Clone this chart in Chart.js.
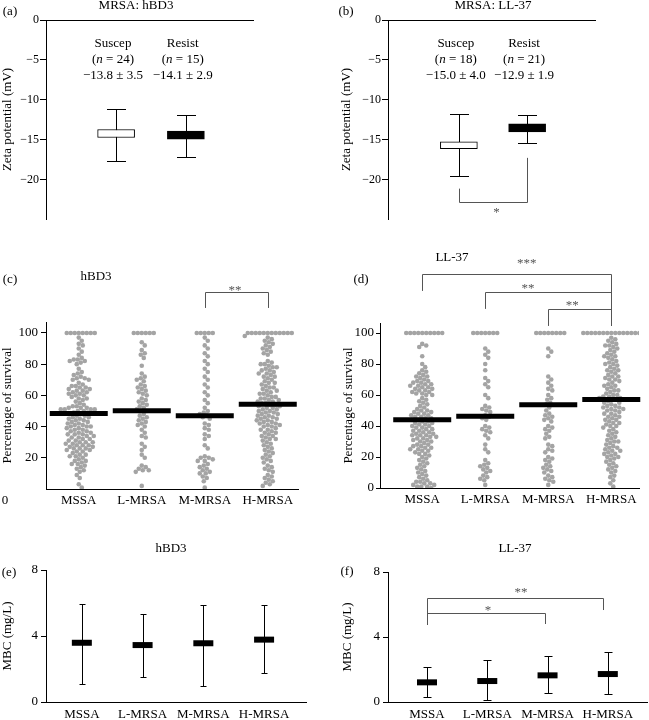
<!DOCTYPE html>
<html><head><meta charset="utf-8">
<script src="https://cdn.jsdelivr.net/npm/chart.js@4.4.1/dist/chart.umd.min.js"></script>
<style>
html,body{margin:0;padding:0;background:#fff;}
#wrap{position:relative;width:649px;height:720px;overflow:hidden;font-family:"Liberation Serif","Times New Roman",serif;color:#000;}
canvas{position:absolute;}
.t{position:absolute;font-size:13px;white-space:nowrap;transform:translate(-50%,-50%);line-height:1;}
</style></head><body>
<div id="wrap">
<canvas id="ca" style="left:0;top:0" width="325" height="230"></canvas>
<canvas id="cb" style="left:325px;top:0" width="324" height="230"></canvas>
<canvas id="cc" style="left:0;top:230px" width="325" height="285"></canvas>
<canvas id="cd" style="left:325px;top:230px" width="324" height="285"></canvas>
<canvas id="ce" style="left:0;top:515px" width="325" height="205"></canvas>
<canvas id="cf" style="left:325px;top:515px" width="324" height="205"></canvas>
<div class="t" style="left:10px;top:10px">(a)</div>
<div class="t" style="left:136px;top:4px">MRSA: hBD3</div>
<div class="t" style="left:346px;top:10px">(b)</div>
<div class="t" style="left:493px;top:4px">MRSA: LL-37</div>
<div class="t" style="left:10px;top:278px">(c)</div>
<div class="t" style="left:96px;top:275px">hBD3</div>
<div class="t" style="left:361px;top:278px">(d)</div>
<div class="t" style="left:452px;top:256px">LL-37</div>
<div class="t" style="left:9px;top:571px">(e)</div>
<div class="t" style="left:171px;top:547px">hBD3</div>
<div class="t" style="left:347px;top:570px">(f)</div>
<div class="t" style="left:515px;top:547px">LL-37</div>
</div>
<script>
// ---------- data ----------
const ZETA_GROUPS = ['Suscep', 'Resist'];
const HBD3_ZETA_N = [24, 15];
const HBD3_ZETA_STAT = ['\u221213.8 \u00b1 3.5', '\u221214.1 \u00b1 2.9'];
const HBD3_ZETA_BOX_HIGH = [-13.7, -13.9];
const HBD3_ZETA_BOX_LOW = [-14.7, -14.9];
const HBD3_ZETA_WHISK_HIGH = [-11.1, -11.9];
const HBD3_ZETA_WHISK_LOW = [-17.6, -17.1];

const LL37_ZETA_N = [18, 21];
const LL37_ZETA_STAT = ['\u221215.0 \u00b1 4.0', '\u221212.9 \u00b1 1.9'];
const LL37_ZETA_BOX_HIGH = [-15.25, -13.0];
const LL37_ZETA_BOX_LOW = [-16.1, -14.0];
const LL37_ZETA_WHISK_HIGH = [-11.75, -11.9];
const LL37_ZETA_WHISK_LOW = [-19.5, -15.4];

const ZETA_TICKS = [0, -5, -10, -15, -20];

const CATS = ['MSSA', 'L-MRSA', 'M-MRSA', 'H-MRSA'];

const HBD3_SURV_MSSA = [100,100,100,100,100,100,100,100,
 97,95,93,92,90,88,86,
 84,83,83,82,82,81,80,
 77,75,74,73,72,71,71,70,70,
 68,67,66,66,65,65,64,64,63,63,62,62,61,61,60,60,
 59,58,58,57,56,55,
 54,53,53,52,52,52,51,51,51,51,50,50,
 49,49,48,48,47,47,46,46,45,45,
 44,44,43,43,42,42,41,41,40,40,40,
 39,39,38,38,37,37,36,36,35,35,35,
 34,34,33,33,32,32,31,31,30,30,30,
 29,29,28,28,28,27,27,26,26,26,25,25,
 24,24,23,22,22,21,21,20,
 19,18,18,17,16,16,15,
 14,13,12,11,9,7,3,1];
const HBD3_SURV_LMRSA = [100,100,100,100,100,100,
 94,92,89,87,86,84,79,74,72,71,70,69,
 67,66,65,64,63,62,61,60,58,57,56,55,54,53,52,51,50,50,
 48,47,46,45,44,43,42,41,40,38,36,34,33,29,27,25,22,20,
 15,14,13,12,12,11,2];
const HBD3_SURV_MMRSA = [100,100,100,100,100,
 97,95,92,90,87,85,82,80,77,75,72,70,67,65,62,60,57,55,52,
 50,49,48,47,46,45,42,41,39,38,35,34,32,28,26,
 21,20,20,19,18,18,16,15,14,13,12,11,10,10,8,7,5,1];
const HBD3_SURV_HMRSA = [100,100,100,100,100,100,100,100,100,100,100,100,
 98,97,96,95,94,93,92,91,90,89,88,87,86,
 82,81,80,80,79,78,78,77,76,76,75,74,74,73,72,72,71,70,
 69,68,68,67,66,65,65,64,63,63,62,61,61,60,
 59,59,58,58,57,57,56,56,55,55,54,54,53,53,52,52,51,51,50,50,
 49,49,48,48,47,47,46,46,45,45,44,44,43,43,42,42,41,41,40,40,
 39,38,38,37,36,36,35,34,34,33,32,32,31,30,
 29,28,27,26,25,24,23,22,21,20,
 19,18,17,15,14,13,12,11,9,8,7,6,5,4,3,2];
const HBD3_SURV_MEAN = [48.3, 50.2, 47.0, 54.3];

const LL37_SURV_MSSA = [100,100,100,100,100,100,100,100,100,100,
 93,92,91,85,80,78,76,75,74,73,72,72,71,70,
 69,69,68,68,67,67,66,66,65,65,64,64,63,63,62,62,61,61,60,60,
 58,57,56,55,54,53,52,51,50,50,
 49,49,48,48,47,47,46,46,45,45,44,44,43,43,42,42,41,41,40,40,
 39,39,38,38,37,37,36,36,35,35,34,34,34,33,33,32,32,31,31,30,30,
 29,28,28,27,27,26,26,25,25,24,24,23,22,22,21,20,
 19,18,17,16,15,14,13,12,11,10,
 9,8,7,6,5,4,4,3,3,2,2,1,1,1,0];
const LL37_SURV_LMRSA = [100,100,100,100,100,100,100,
 90,88,86,84,80,76,71,69,67,65,60,58,53,52,51,50,49,47,46,45,44,
 40,39,38,37,36,34,32,28,25,23,18,16,15,14,13,12,11,10,8,7,6,5,2];
const LL37_SURV_MMRSA = [100,100,100,100,100,100,100,100,
 90,88,85,72,70,68,66,64,63,60,58,57,55,54,52,50,48,47,46,45,44,43,
 40,39,38,37,35,33,32,28,27,25,24,23,20,19,18,17,15,14,13,12,11,10,8,7,6,5,4,2];
const LL37_SURV_HMRSA = [100,100,100,100,100,100,100,100,100,100,100,100,100,100,100,
 98,97,96,95,94,93,92,92,91,90,
 89,88,87,86,85,85,84,83,82,81,80,80,
 79,78,77,76,76,75,74,73,72,72,71,70,70,
 69,68,67,66,66,65,64,63,63,62,61,60,60,
 59,59,58,58,57,57,56,55,55,54,53,53,52,52,51,51,50,50,
 49,48,48,47,46,46,45,44,44,43,42,42,41,40,40,
 39,38,37,36,35,34,33,32,31,30,30,
 29,28,27,26,26,25,24,24,23,22,22,21,20,20,
 19,18,17,16,15,14,13,12,11,10,
 8,7,5,3,1];
const LL37_SURV_MEAN = [44.1, 46.3, 53.7, 57.2];

const HBD3_MBC_MEAN = [3.59, 3.45, 3.56, 3.78];
const HBD3_MBC_HIGH = [5.94, 5.33, 5.86, 5.86];
const HBD3_MBC_LOW = [1.09, 1.49, 0.99, 1.78];
const LL37_MBC_MEAN = [1.21, 1.29, 1.64, 1.72];
const LL37_MBC_HIGH = [2.17, 2.58, 2.83, 3.10];
const LL37_MBC_LOW = [0.33, 0.12, 0.57, 0.47];

const SURV_TICKS = [0, 20, 40, 60, 80, 100];
const MBC_TICKS = [0, 4, 8];

// ---------- helpers ----------
const FONT = '"Liberation Serif","Times New Roman",serif';
Chart.defaults.font.family = FONT;
Chart.defaults.color = '#000';

// deterministic beeswarm layout (pixel-space collision avoidance)
function swarm(groups, pxX, pxY, d) {
  const pts = [];
  groups.forEach((vals, gi) => {
    const placed = [];
    vals.slice().sort((a, b) => b - a).forEach(v => {
      const py = v * pxY;
      let off = 0;
      for (let i = 0; i < 600; i++) {
        off = i === 0 ? 0 : (i % 2 ? 1 : -1) * Math.ceil(i / 2) * 1.0;
        let ok = true;
        for (const p of placed) {
          const dy = p.py - py;
          if (Math.abs(dy) < d) {
            const dx = p.px - off;
            if (dx * dx + dy * dy < d * d - 1e-6) { ok = false; break; }
          }
        }
        if (ok) break;
      }
      placed.push({ px: off, py });
      pts.push({ x: gi + 1 + off / pxX, y: v });
    });
  });
  return pts;
}

function drawRich(ctx, parts, cx, cy, size, color, baseline) {
  const fonts = parts.map(p => (p[1] ? 'italic ' : '') + size + 'px ' + FONT);
  let total = 0;
  parts.forEach((p, i) => { ctx.font = fonts[i]; total += ctx.measureText(p[0]).width; });
  let x = cx - total / 2;
  ctx.fillStyle = color; ctx.textBaseline = baseline; ctx.textAlign = 'left';
  parts.forEach((p, i) => { ctx.font = fonts[i]; ctx.fillText(p[0], x, cy); x += ctx.measureText(p[0]).width; });
}

const ANNOT = {};
const annotPlugin = {
  id: 'annot',
  beforeDatasetsDraw(chart) {
    const o = ANNOT[chart.canvas.id]; if (!o || !o.whiskers) return;
    const w = o.whiskers, ctx = chart.ctx, xs = chart.scales.x, ys = chart.scales.y;
    ctx.save(); ctx.strokeStyle = '#000'; ctx.lineWidth = 1;
    w.x.forEach((xv, i) => {
      const px = Math.round(xs.getPixelForValue(xv)) + 0.5;
      const yh = Math.round(ys.getPixelForValue(w.hi[i])) + 0.5;
      const yl = Math.round(ys.getPixelForValue(w.lo[i])) + 0.5;
      ctx.beginPath();
      ctx.moveTo(px, yh); ctx.lineTo(px, yl);
      ctx.moveTo(px - w.cap / 2, yh); ctx.lineTo(px + w.cap / 2, yh);
      ctx.moveTo(px - w.cap / 2, yl); ctx.lineTo(px + w.cap / 2, yl);
      ctx.stroke();
    });
    ctx.restore();
  },
  afterDatasetsDraw(chart) {
    const o = ANNOT[chart.canvas.id]; if (!o) return;
    const ctx = chart.ctx, xs = chart.scales.x, ys = chart.scales.y;
    ctx.save();
    (o.brackets || []).forEach(b => {
      const x1 = Math.round(xs.getPixelForValue(b.x1)) + 0.5, x2 = Math.round(xs.getPixelForValue(b.x2)) + 0.5;
      const yH = Math.round(ys.getPixelForValue(b.yH)) + 0.5;
      ctx.strokeStyle = '#555'; ctx.lineWidth = 1;
      ctx.beginPath();
      ctx.moveTo(x1, ys.getPixelForValue(b.y1)); ctx.lineTo(x1, yH); ctx.lineTo(x2, yH); ctx.lineTo(x2, ys.getPixelForValue(b.y2));
      ctx.stroke();
    });
    (o.texts || []).forEach(t => {
      const size = t.size || 13;
      const cx = xs.getPixelForValue(t.x), cy = ys.getPixelForValue(t.y);
      if (t.star) drawRich(ctx, t.parts, cx, cy + size * 0.55, size, '#555', 'alphabetic');
      else drawRich(ctx, t.parts, cx, cy, size, '#000', 'middle');
    });
    ctx.restore();
  }
};
Chart.register(annotPlugin);

function yAxis(min, max, ticks, title, width, tickLen, pad, size) {
  return {
    type: 'linear', min, max,
    afterBuildTicks: s => { s.ticks = ticks.map(v => ({ value: v })); },
    afterFit: s => { s.width = width; },
    ticks: { font: { size, family: FONT }, color: '#000', padding: pad,
      callback: v => (v < 0 ? '\u2212' + Math.abs(v) : String(v)) },
    grid: { drawOnChartArea: false, tickLength: tickLen, color: '#000', tickColor: '#000' },
    border: { display: true, color: '#000', width: 1 },
    title: { display: true, text: title, font: { size: 13, family: FONT }, color: '#000', padding: 0 }
  };
}
function xCatAxis(min, max, height, pad) {
  return {
    type: 'linear', min, max, position: 'bottom',
    afterBuildTicks: s => { s.ticks = CATS.map((c, i) => ({ value: i + 1 })); },
    afterFit: s => { s.height = height; },
    ticks: { autoSkip: false, maxRotation: 0, minRotation: 0, padding: pad, font: { size: 13, family: FONT }, color: '#000',
      callback: v => CATS[Math.round(v) - 1] },
    grid: { drawOnChartArea: false, drawTicks: false },
    border: { display: true, color: '#000', width: 1 }
  };
}
const baseOpts = { responsive: false, animation: false, events: [],
  plugins: { legend: { display: false }, tooltip: { enabled: false } } };
function lay(p) { return { autoPadding: false, padding: p }; }

// ---------- (a) & (b) zeta potential ----------
function zetaChart(id, hi, lo, wHi, wLo, nArr, stat, pad, yW, xmin, xmax, brackets, extraTexts) {
  ANNOT[id] = {
    whiskers: { x: [1, 2], hi: wHi, lo: wLo, cap: 19 },
    brackets,
    texts: ZETA_GROUPS.flatMap((g, i) => {
      const x = i === 0 ? 0.955 : 1.955;
      return [
        { x, y: -3.0, parts: [[g]] },
        { x, y: -5.0, parts: [['('], ['n', 1], [' = ' + nArr[i] + ')']] },
        { x, y: -6.9, parts: [[stat[i]]] }
      ];
    }).concat(extraTexts)
  };
  new Chart(document.getElementById(id), {
    type: 'bar',
    data: { datasets: [{
      data: ZETA_GROUPS.map((g, i) => ({ x: i + 1, y: [lo[i], hi[i]] })),
      backgroundColor: ['#ffffff', '#000000'], borderColor: '#000', borderWidth: 1,
      borderSkipped: false, barThickness: 37
    }] },
    options: Object.assign({}, baseOpts, {
      layout: lay(pad),
      scales: {
        x: { type: 'linear', min: xmin, max: xmax, position: 'top',
          afterFit: s => { s.height = 0; },
          ticks: { display: false }, grid: { drawOnChartArea: false, drawTicks: false },
          border: { display: true, color: '#000', width: 1 } },
        y: yAxis(-24.9, 0, ZETA_TICKS, 'Zeta potential (mV)', yW, 6, 1, 12)
      }
    })
  });
}
zetaChart('ca', HBD3_ZETA_BOX_HIGH, HBD3_ZETA_BOX_LOW, HBD3_ZETA_WHISK_HIGH, HBD3_ZETA_WHISK_LOW,
  HBD3_ZETA_N, HBD3_ZETA_STAT, { left: 0, top: 20, right: 72, bottom: 11 }, 46, 0.366, 2.591, [], []);
zetaChart('cb', LL37_ZETA_BOX_HIGH, LL37_ZETA_BOX_LOW, LL37_ZETA_WHISK_HIGH, LL37_ZETA_WHISK_LOW,
  LL37_ZETA_N, LL37_ZETA_STAT, { left: 14, top: 20, right: 54, bottom: 11 }, 49, 0.341, 2.615,
  [{ x1: 1, x2: 2, yH: -22.75, y1: -21.1, y2: -17.25 }],
  [{ x: 1.55, y: -23.6, parts: [['*']], star: true }]);

// ---------- (c) & (d) survival ----------
function survChart(id, groups, means, pad, yW, xH, xmin, xmax, ymax, pxY, tickLen, tickPad, ticks, brackets, texts) {
  ANNOT[id] = { brackets, texts };
  new Chart(document.getElementById(id), {
    type: 'scatter',
    data: { datasets: [
      { data: swarm(groups, 63, pxY, 4.0), pointRadius: 2.3, pointBackgroundColor: '#a4a4a4',
        pointBorderWidth: 0, borderWidth: 0, order: 1 },
      { data: means.map((m, i) => ({ x: i + 1, y: m })), pointStyle: 'line', pointRadius: 29,
        borderColor: '#000', pointBorderWidth: 5, borderWidth: 5, order: 0, clip: false }
    ] },
    options: Object.assign({}, baseOpts, {
      layout: lay(pad),
      scales: {
        x: xCatAxis(xmin, xmax, xH, 4),
        y: yAxis(0, ymax, ticks, 'Percentage of survival', yW, tickLen, tickPad, 13)
      }
    })
  });
}
survChart('cc', [HBD3_SURV_MSSA, HBD3_SURV_LMRSA, HBD3_SURV_MMRSA, HBD3_SURV_HMRSA], HBD3_SURV_MEAN,
  { left: 0, top: 92, right: 27, bottom: 0 }, 46, 26, 0.48, 4.48, 107, 1.5607, 5, 3, SURV_TICKS.slice(1),
  [{ x1: 3, x2: 4, yH: 126.3, y1: 116, y2: 116 }],
  [{ x: 3.48, y: 129.5, parts: [['**']], star: true },
   { x: -0.17, y: -7.3, parts: [['0']] }]);
survChart('cd', [LL37_SURV_MSSA, LL37_SURV_LMRSA, LL37_SURV_MMRSA, LL37_SURV_HMRSA], LL37_SURV_MEAN,
  { left: 16, top: 93, right: 10, bottom: 0 }, 39, 27, 0.33, 4.44, 106.5, 1.549, 4, 2, SURV_TICKS,
  [{ x1: 1, x2: 4, yH: 138.2, y1: 127.2, y2: 104.6 },
   { x1: 2, x2: 4, yH: 126.5, y1: 115.6, y2: 104.6 },
   { x1: 3, x2: 4, yH: 115.6, y1: 104.6, y2: 104.6 }],
  [{ x: 2.66, y: 147.2, parts: [['***']], star: true },
   { x: 2.68, y: 131, parts: [['**']], star: true },
   { x: 3.38, y: 120, parts: [['**']], star: true }]);

// ---------- (e) & (f) MBC ----------
function mbcChart(id, mean, hi, lo, pad, yW, xmin, xmax, cap, brackets, texts) {
  ANNOT[id] = { whiskers: { x: [1, 2, 3, 4], hi, lo, cap }, brackets, texts };
  new Chart(document.getElementById(id), {
    type: 'scatter',
    data: { datasets: [
      { data: mean.map((m, i) => ({ x: i + 1, y: m })), pointStyle: 'line', pointRadius: 10,
        borderColor: '#000', pointBorderWidth: 6, borderWidth: 6, clip: false }
    ] },
    options: Object.assign({}, baseOpts, {
      layout: lay(pad),
      scales: {
        x: xCatAxis(xmin, xmax, 18, 5),
        y: yAxis(0, 8, MBC_TICKS, 'MBC (mg/L)', yW, 5, 3, 13)
      }
    })
  });
}
mbcChart('ce', HBD3_MBC_MEAN, HBD3_MBC_HIGH, HBD3_MBC_LOW,
  { left: 0, top: 55, right: 19, bottom: 0 }, 46, 0.41, 4.69, 6, [], []);
mbcChart('cf', LL37_MBC_MEAN, LL37_MBC_HIGH, LL37_MBC_LOW,
  { left: 15, top: 57, right: 2, bottom: 0 }, 48, 0.353, 4.65, 8,
  [{ x1: 1, x2: 3.92, yH: 6.4, y1: 4.74, y2: 5.66 },
   { x1: 1, x2: 2.96, yH: 5.48, y1: 4.74, y2: 4.8 }],
  [{ x: 2.56, y: 6.95, parts: [['**']], star: true },
   { x: 2.01, y: 5.85, parts: [['*']], star: true }]);
</script>
</body></html>
